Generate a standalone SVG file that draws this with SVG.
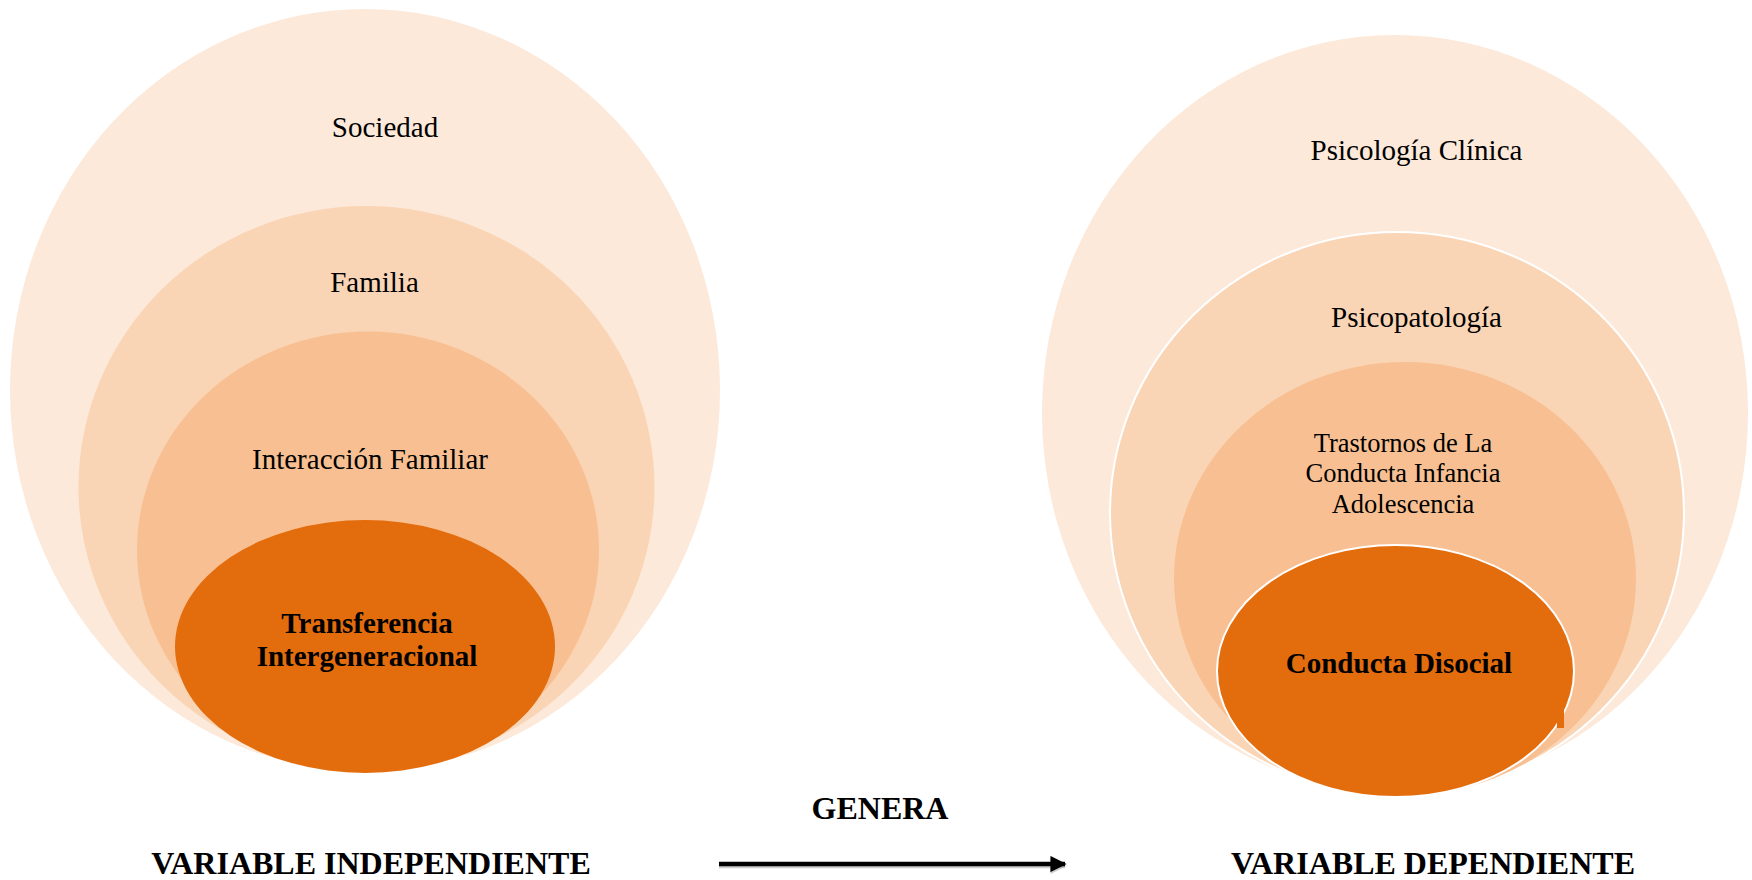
<svg xmlns="http://www.w3.org/2000/svg" width="1752" height="880" viewBox="0 0 1752 880">
<defs>
<style>
.l1{fill:#FCE9DA}
.l2{fill:#FAD5B5}
.l3{fill:#F8C092}
.l4{fill:#E36C0D}
.ws{stroke:#FFFFFF;stroke-width:2}
.t{font-family:"Liberation Serif","Times New Roman",serif;font-size:29px;fill:#000;text-anchor:middle}
.ts{font-size:26.5px}
.b{font-weight:bold}
.h{font-family:"Liberation Serif","Times New Roman",serif;font-size:32px;font-weight:bold;fill:#000;text-anchor:middle}
</style>
<marker id="arr" viewBox="0 0 10 10" refX="9" refY="5" markerWidth="3.6" markerHeight="3.6" markerUnits="strokeWidth" orient="auto">
<path d="M0,0 L10,5 L0,10 z" fill="#000"/>
</marker>
<marker id="arrs" viewBox="0 0 10 10" refX="9" refY="5" markerWidth="3.6" markerHeight="3.6" markerUnits="strokeWidth" orient="auto">
<path d="M0,0 L10,5 L0,10 z" fill="#999" opacity="0.5"/>
</marker>
</defs>
<rect width="1752" height="880" fill="#FFFFFF"/>

<g id="left">
<g id="sociedad"><ellipse class="l1" cx="365" cy="390" rx="355" ry="381"/><text class="t" x="385" y="136.5">Sociedad</text></g>
<g id="familia"><ellipse class="l2" cx="366.5" cy="487" rx="288" ry="281"/><text class="t" x="374.5" y="291.5">Familia</text></g>
<g id="interaccion"><ellipse class="l3" cx="368" cy="550" rx="231" ry="218.5"/><text class="t" x="370" y="468.5">Interacción Familiar</text></g>
<g id="transferencia"><ellipse class="l4" cx="365" cy="646.5" rx="190" ry="126.5"/><text class="t b" x="367" y="632.5">Transferencia</text><text class="t b" x="367" y="665.5">Intergeneracional</text></g>
</g>

<g id="right">
<g id="psicologia"><ellipse class="l1" cx="1395" cy="413" rx="353" ry="378"/><text class="t" x="1416.5" y="160">Psicología Clínica</text></g>
<g id="psicopatologia"><ellipse class="l2 ws" cx="1397" cy="513" rx="287" ry="281"/><text class="t" x="1416.5" y="326.5">Psicopatología</text></g>
<g id="trastornos"><ellipse class="l3" cx="1405" cy="578.5" rx="231" ry="216.5"/><text class="t ts" x="1403" y="451.5">Trastornos de La</text><text class="t ts" x="1403" y="482">Conducta Infancia</text><text class="t ts" x="1403" y="512.5">Adolescencia</text></g>
<g id="conducta"><ellipse class="l4 ws" cx="1395.5" cy="671" rx="178.5" ry="126"/><rect class="l4" x="1557" y="707" width="7" height="21"/><text class="t b" x="1399" y="673">Conducta Disocial</text></g>
</g>

<g id="connectors">
<line x1="719" y1="866" x2="1065" y2="866" stroke="#999" stroke-opacity="0.5" stroke-width="4.5" marker-end="url(#arrs)"/>
<line x1="719" y1="864" x2="1065" y2="864" stroke="#000" stroke-width="4.5" marker-end="url(#arr)"/>
</g>

<g id="labels">
<text class="h" x="880" y="819">GENERA</text>
<text class="h" x="371" y="874">VARIABLE INDEPENDIENTE</text>
<text class="h" x="1433" y="874">VARIABLE DEPENDIENTE</text>
</g>
</svg>
